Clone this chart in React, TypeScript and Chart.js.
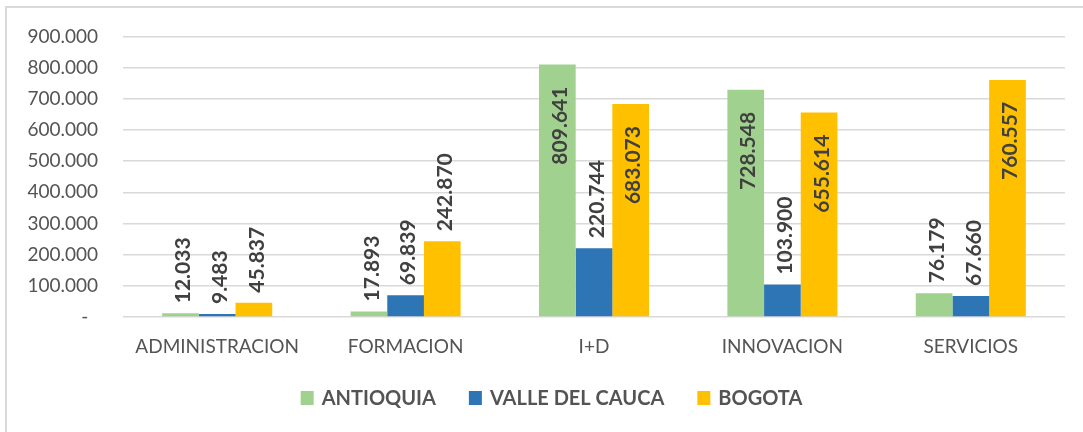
import React, { useEffect, useRef } from 'react';
import { Chart, registerables } from 'chart.js';

Chart.register(...registerables);

const categories = ['ADMINISTRACION', 'FORMACION', 'I+D', 'INNOVACION', 'SERVICIOS'];
const seriesNames = ['ANTIOQUIA', 'VALLE DEL CAUCA', 'BOGOTA'];
const antioquia = [12033, 17893, 809641, 728548, 76179];
const valleDelCauca = [9483, 69839, 220744, 103900, 67660];
const bogota = [45837, 242870, 683073, 655614, 760557];
const seriesColors = ['#A0D18E', '#2E75B6', '#FFC000'];
const yMax = 900000;
const yStep = 100000;

const fmt = (v: number): string =>
  v === 0 ? '-  ' : String(Math.round(v)).replace(/\B(?=(\d{3})+(?!\d))/g, '.');

const FONT = 'Lato';
const TEXT_GRAY = '#545454';

const framePlugin = {
  id: 'frame',
  beforeDraw(chart: any) {
    const { ctx, width, height } = chart;
    ctx.save();
    ctx.fillStyle = '#ffffff';
    ctx.fillRect(0, 0, width, height);
    ctx.strokeStyle = '#D9D9D9';
    ctx.lineWidth = 2;
    ctx.beginPath();
    ctx.moveTo(6, height);
    ctx.lineTo(6, 7);
    ctx.lineTo(width, 7);
    ctx.stroke();
    ctx.restore();
  },
};

const dataLabelPlugin = {
  id: 'barLabels',
  afterDatasetsDraw(chart: any) {
    const ctx = chart.ctx;
    const top = chart.chartArea.top;
    ctx.save();
    ctx.font = `bold 21px ${FONT}`;
    ctx.fillStyle = '#404040';
    ctx.textBaseline = 'middle';
    chart.data.datasets.forEach((ds: any, di: number) => {
      const meta = chart.getDatasetMeta(di);
      meta.data.forEach((bar: any, i: number) => {
        const text = fmt(ds.data[i]);
        const w = ctx.measureText(text).width;
        const gap = 10;
        const pad = 22;
        ctx.save();
        let y: number;
        if (bar.y - gap - w >= top) {
          y = bar.y - gap;
          ctx.textAlign = 'left';
        } else {
          y = bar.y + pad;
          ctx.textAlign = 'right';
        }
        ctx.translate(bar.x + 3, y);
        ctx.rotate(-Math.PI / 2);
        ctx.fillText(text, 0, 0);
        ctx.restore();
      });
    });
    ctx.restore();
  },
};

const legendPlugin = {
  id: 'customLegend',
  afterDraw(chart: any) {
    const ctx = chart.ctx;
    ctx.save();
    ctx.font = `bold 20px ${FONT}`;
    const box = 13;
    const boxGap = 8;
    const itemGap = 33;
    const dsets = chart.data.datasets;
    const widths = dsets.map((ds: any) => box + boxGap + ctx.measureText(ds.label).width);
    const total = widths.reduce((a: number, b: number) => a + b, 0) + itemGap * (widths.length - 1);
    let x = chart.width / 2 + 10 - total / 2;
    const y = 398;
    ctx.textBaseline = 'middle';
    ctx.textAlign = 'left';
    dsets.forEach((ds: any, i: number) => {
      ctx.fillStyle = ds.backgroundColor;
      ctx.fillRect(x, y - 7, box, box + 1);
      ctx.fillStyle = TEXT_GRAY;
      ctx.fillText(ds.label, x + box + boxGap, y + 1);
      x += widths[i] + itemGap;
    });
    ctx.restore();
  },
};

export default function App() {
  const ref = useRef<HTMLCanvasElement | null>(null);

  useEffect(() => {
    document.body.style.margin = '0';
    if (!ref.current) return;
    const series = [antioquia, valleDelCauca, bogota];
    const chart = new Chart(ref.current, {
      type: 'bar',
      data: {
        labels: categories,
        datasets: series.map((d, i) => ({
          label: seriesNames[i],
          data: d,
          backgroundColor: seriesColors[i],
          borderWidth: 0,
          barPercentage: 1,
          categoryPercentage: 0.584,
        })),
      },
      options: {
        animation: false,
        responsive: false,
        devicePixelRatio: 1,
        layout: { padding: { top: 31, right: 18, bottom: 65, left: 0 } },
        plugins: {
          legend: { display: false },
          tooltip: { enabled: false },
        },
        scales: {
          x: {
            grid: { display: false, drawTicks: false },
            border: { display: false },
            ticks: {
              color: TEXT_GRAY,
              font: { family: FONT, size: 19 },
              padding: 18,
              maxRotation: 0,
              autoSkip: false,
            },
            afterFit: (s: any) => {
              s.height = 50;
            },
          },
          y: {
            min: 0,
            max: yMax,
            ticks: {
              stepSize: yStep,
              color: TEXT_GRAY,
              font: { family: FONT, size: 19 },
              padding: 25,
              callback: (v: any) => fmt(Number(v)),
            },
            grid: { color: '#D9D9D9', lineWidth: 1.5, drawTicks: false },
            border: { display: false },
            afterFit: (s: any) => {
              s.width = 123;
            },
          },
        },
      } as any,
      plugins: [framePlugin, dataLabelPlugin, legendPlugin],
    });
    return () => chart.destroy();
  }, []);

  return (
    <div style={{ width: 1083, height: 432 }}>
      <canvas ref={ref} width={1083} height={432} style={{ display: 'block' }} />
    </div>
  );
}
